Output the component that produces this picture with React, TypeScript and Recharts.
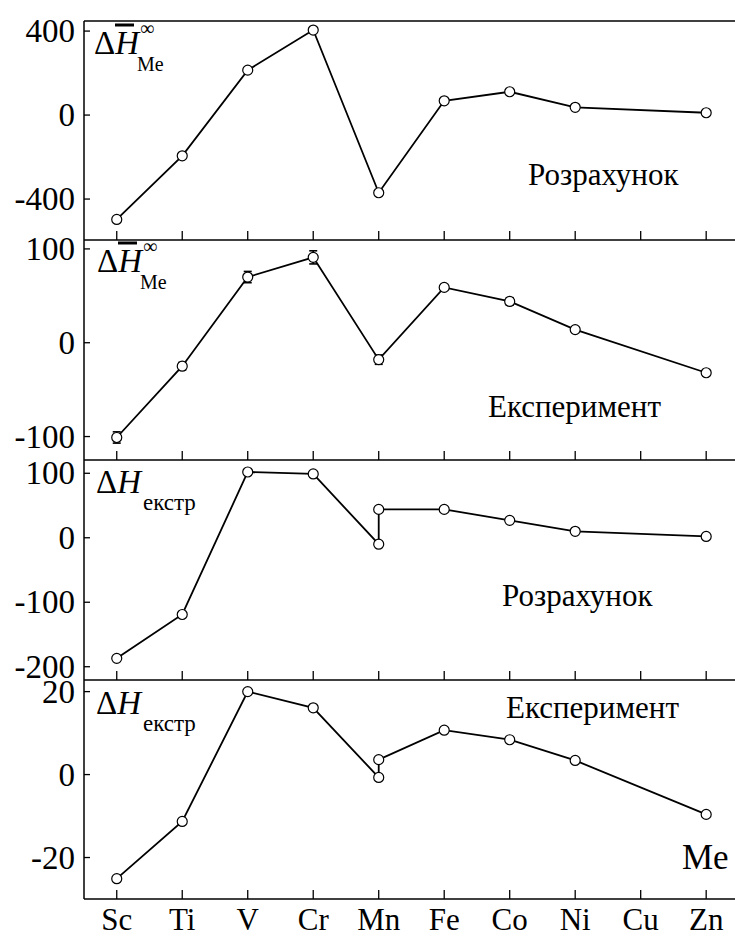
import { LineChart, Line, XAxis, YAxis, ErrorBar } from "recharts";

const FONT = '"Liberation Serif", "Times New Roman", Times, "DejaVu Serif", "Noto Serif", serif';

const metals = ["Sc", "Ti", "V", "Cr", "Mn", "Fe", "Co", "Ni", "Cu", "Zn"];

// partial enthalpy at infinite dilution, calculated
const calcNames = ["Sc", "Ti", "V", "Cr", "Mn", "Fe", "Co", "Ni", "Zn"];
const calcValues = [-497, -194, 214, 405, -370, 68, 111, 37, 11];

// partial enthalpy at infinite dilution, measured (with error)
const expNames = ["Sc", "Ti", "V", "Cr", "Mn", "Fe", "Co", "Ni", "Zn"];
const expValues = [-101, -25, 70, 91, -18, 59, 44, 14, -32];
const expErrors = [6, 4, 6, 7, 5, 3, 4, 3, 3];

// extrapolated enthalpy; Mn has two values
const extrNames = ["Sc", "Ti", "V", "Cr", "Mn", "Mn", "Fe", "Co", "Ni", "Zn"];
const extrCalcValues = [-187, -119, 102, 99, -10, 44, 44, 27, 10, 2];
const extrExpValues = [-25.1, -11.3, 20, 16.1, -0.7, 3.6, 10.7, 8.4, 3.4, -9.6];

const xTicks = metals.map((_, i) => i);
const xDomain = [-0.5, 9.44];

const toRows = (names: string[], values: number[], errors?: number[]) =>
  names.map((n, i) => ({ x: metals.indexOf(n), v: values[i], err: errors ? errors[i] : 0 }));

const YTick = ({ x, y, payload }: any) => (
  <g>
    <line x1={x} y1={y} x2={x + 6} y2={y} stroke="#000" strokeWidth={1.3} />
    <text x={x - 9} y={y + 11} textAnchor="end" fontSize={33} fontFamily={FONT} fill="#000">
      {String(payload.value)}
    </text>
  </g>
);

const XTick = ({ x, y, payload, withLabels }: any) => (
  <g>
    <line x1={x} y1={y} x2={x} y2={y - 9} stroke="#000" strokeWidth={1.3} />
    {withLabels && (
      <text x={x} y={y + 31} textAnchor="middle" fontSize={31} fontFamily={FONT} fill="#000">
        {metals[payload.value]}
      </text>
    )}
  </g>
);

type PanelProps = {
  top: number;
  bottom: number;
  rows: { x: number; v: number; err: number }[];
  domain: number[];
  ticks: number[];
  withLabels?: boolean;
  topBorder?: boolean;
  errors?: boolean;
};

const PAD = 20;

const Panel = ({ top, bottom, rows, domain, ticks, withLabels, topBorder, errors }: PanelProps) => {
  const padTop = Math.min(PAD, top);
  const padBottom = withLabels ? 37 : PAD;
  // axes need a height of at least 1px to be drawn
  return (
    <div style={{ position: "absolute", left: 0, top: top - padTop }}>
      <LineChart
        width={735}
        height={bottom - top + padTop + padBottom + 1}
        data={rows}
        margin={{ top: topBorder ? padTop - 1 : padTop, right: 0, bottom: padBottom, left: 0 }}
      >
        <XAxis
          dataKey="x"
          type="number"
          domain={xDomain}
          ticks={xTicks}
          allowDataOverflow
          height={1}
          tickSize={0}
          tickMargin={0}
          tickLine={false}
          axisLine={{ stroke: "#000", strokeWidth: 1.5 }}
          tick={<XTick withLabels={!!withLabels} />}
          interval={0}
        />
        {topBorder && (
          <XAxis
            xAxisId="top"
            dataKey="x"
            type="number"
            orientation="top"
            domain={xDomain}
            allowDataOverflow
            height={1}
            tick={false}
            tickLine={false}
            axisLine={{ stroke: "#000", strokeWidth: 1.5 }}
          />
        )}
        <YAxis
          type="number"
          domain={domain}
          ticks={ticks}
          allowDataOverflow
          width={84}
          tickSize={0}
          tickMargin={0}
          tickLine={false}
          axisLine={{ stroke: "#000", strokeWidth: 1.5 }}
          tick={<YTick />}
          interval={0}
        />
        <Line
          dataKey="v"
          type="linear"
          stroke="#000"
          strokeWidth={1.8}
          dot={{ r: 5, fill: "#fff", stroke: "#000", strokeWidth: 1.2 }}
          isAnimationActive={false}
        >
          {errors && (
            <ErrorBar dataKey="err" direction="y" width={4} stroke="#000" strokeWidth={1.6} />
          )}
        </Line>
      </LineChart>
    </div>
  );
};

const txt = { fontFamily: FONT, fill: "#000" };

// ΔH with overline, ∞ superscript and "Me" subscript
const PartialTitle = ({ x, y }: { x: number; y: number }) => (
  <g>
    <text x={x} y={y} fontSize={33} {...txt}>
      Δ<tspan fontStyle="italic">H</tspan>
    </text>
    <line x1={x + 21} y1={y - 29} x2={x + 40} y2={y - 29} stroke="#000" strokeWidth={3} />
    <text x={x + 46} y={y - 19} fontSize={20} {...txt}>∞</text>
    <text x={x + 43} y={y + 17} fontSize={20} {...txt}>Me</text>
  </g>
);

const ExtrTitle = ({ x, y }: { x: number; y: number }) => (
  <g>
    <text x={x} y={y} fontSize={33} {...txt}>
      Δ<tspan fontStyle="italic">H</tspan>
    </text>
    <text x={x + 47} y={y + 17} fontSize={23} {...txt}>екстр</text>
  </g>
);

const App = () => {
  return (
    <div style={{ position: "absolute", left: 0, top: 0, width: 735, height: 937, background: "#fff", fontFamily: FONT }}>
      <Panel top={21} bottom={240} rows={toRows(calcNames, calcValues)} domain={[-595, 448]} ticks={[-400, 0, 400]} topBorder />
      <Panel top={240} bottom={460} rows={toRows(expNames, expValues, expErrors)} domain={[-125, 109.5]} ticks={[-100, 0, 100]} errors />
      <Panel top={460} bottom={680} rows={toRows(extrNames, extrCalcValues)} domain={[-220.6, 120.6]} ticks={[-200, -100, 0, 100]} />
      <Panel top={680} bottom={899} rows={toRows(extrNames, extrExpValues)} domain={[-30, 22.8]} ticks={[-20, 0, 20]} withLabels />
      <svg width={735} height={937} style={{ position: "absolute", left: 0, top: 0, pointerEvents: "none" }}>
        <PartialTitle x={94} y={54} />
        <PartialTitle x={97} y={272} />
        <ExtrTitle x={96} y={493} />
        <ExtrTitle x={96} y={714} />
        <text x={528} y={185} fontSize={31} {...txt}>Розрахунок</text>
        <text x={488} y={417} fontSize={31} {...txt}>Експеримент</text>
        <text x={502} y={606} fontSize={31} {...txt}>Розрахунок</text>
        <text x={506} y={718} fontSize={31} {...txt}>Експеримент</text>
        <text x={682} y={869} fontSize={35} {...txt}>Me</text>
      </svg>
    </div>
  );
};

export default App;
